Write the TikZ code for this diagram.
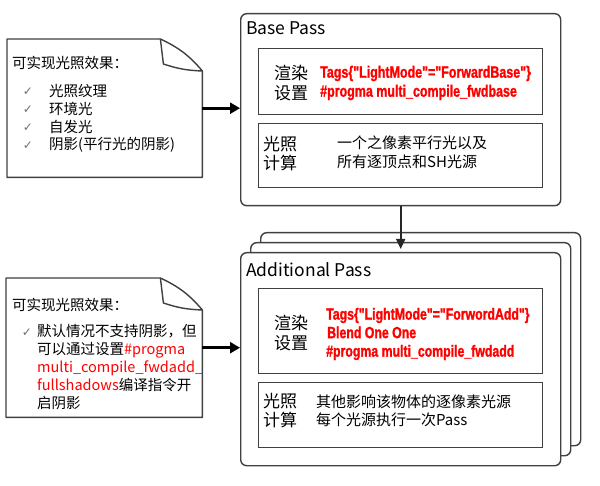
\documentclass[tikz,border=0pt]{standalone}
\usepackage{fontspec}
\setmainfont{Noto Sans CJK SC}
\newfontfamily\redfont{Liberation Sans}[FakeStretch=0.76,FakeBold=1.3]
\newfontfamily\symfont{DejaVu Sans}
\usetikzlibrary{arrows.meta,calc}
\definecolor{linegray}{HTML}{404040}
\definecolor{checkgray}{HTML}{707070}
\begin{document}
\begin{tikzpicture}[x=1pt,y=-1pt,
  passbox/.style={draw=linegray, line width=1.4pt, rounded corners=6pt, fill=white, anchor=north west, inner sep=0pt},
  inbox/.style={draw=linegray, line width=1.4pt, fill=white, anchor=north west, inner sep=0pt},
  notearea/.style={anchor=north west, inner sep=0pt},
  noteline/.style={draw=linegray, line width=1.4pt, line join=round},
  fatarrow/.style={line width=2.8pt, -{Triangle[length=10pt,width=11pt]}},
  thinarrow/.style={draw=black!85, line width=1.6pt, -{Triangle[length=10pt,width=9pt]}},
  ttl/.style={anchor=west, font=\fontsize{17.5}{20}\selectfont, inner sep=0pt},
  lbl/.style={align=center, font=\fontsize{17}{20}\selectfont, inner sep=0pt},
  lbl2/.style={align=center, font=\fontsize{17}{19}\selectfont, inner sep=0pt},
  body/.style={anchor=west, align=left, font=\fontsize{15}{19}\selectfont, inner sep=0pt},
  redtxt/.style={anchor=west, align=left, text=red, font=\redfont\bfseries\fontsize{16.4}{19}\selectfont, inner sep=0pt},
  notetxt/.style={anchor=west, align=left, font=\fontsize{14.5}{18}\selectfont, inner sep=0pt},
  chk/.style={text=checkgray, font=\symfont\fontsize{12}{12}\selectfont, inner sep=0pt}]
\useasboundingbox (0,0) rectangle (600,486);

% ---------- Base Pass ----------
\node[passbox, minimum width=320pt, minimum height=192pt] (base) at (240,13) {};
\node[ttl] (basettl) at (246,28) {Base Pass};
\node[inbox, minimum width=284pt, minimum height=66pt] (b1) at (258,48) {};
\node[inbox, minimum width=284pt, minimum height=64pt] (b2) at (258,123) {};
\node[lbl] (b1l) at (291,83) {渲染\\设置};
\node[redtxt] (b1r) at (320,83) {Tags\{"LightMode"="ForwardBase"\}\\\#progma multi\_compile\_fwdbase};
\node[lbl2] (b2l) at (280,154) {光照\\计算};
\node[body] (b2r) at (337,152) {一个之像素平行光以及\\所有逐顶点和SH光源};

% ---------- Additional Pass ----------
\node[passbox, minimum width=320pt, minimum height=213pt] (add3) at (260,232) {};
\node[passbox, minimum width=320pt, minimum height=213pt] (add2) at (250,242) {};
\node[passbox, minimum width=320pt, minimum height=213pt] (add) at (240,252) {};
\node[ttl] (addttl) at (246,270) {Additional Pass};
\node[inbox, minimum width=284pt, minimum height=85pt] (a1) at (258,288) {};
\node[inbox, minimum width=284pt, minimum height=65pt] (a2) at (258,382) {};
\node[lbl] (a1l) at (291,333) {渲染\\设置};
\node[redtxt, font=\redfont\bfseries\fontsize{16.2}{18.5}\selectfont] (a1r) at (326,334) {Tags\{"LightMode"="ForwordAdd"\}\\\hspace{1pt}Blend One One\\\#progma multi\_compile\_fwdadd};
\node[lbl2] (a2l) at (280,411) {光照\\计算};
\node[body, font=\fontsize{15}{18.5}\selectfont] (a2r) at (316,411) {其他影响该物体的逐像素光源\\每个光源执行一次Pass};

\draw[thinarrow] (base.south) -- ([yshift=3pt]add.north);

% ---------- Note 1 ----------
\node[notearea, minimum width=195pt, minimum height=138pt] (note1) at (7,39) {};
\draw[noteline, fill=white] (note1.north west) -- ([xshift=-42pt]note1.north east)
   to[bend left=12] ([yshift=-32pt]note1.north east) -- (note1.south east) -- (note1.south west) -- cycle;
\draw[noteline] ([xshift=-42pt]note1.north east) -- ([xshift=-39pt,yshift=-25pt]note1.north east)
   to[bend right=8] ([yshift=-32pt]note1.north east);
\node[notetxt] (n1t) at (12,63) {可实现光照效果：};
\node[chk] (c1) at (28,92) {✓};
\node[chk] (c2) at (28,110) {✓};
\node[chk] (c3) at (28,128) {✓};
\node[chk] (c4) at (28,146) {✓};
\node[notetxt] (i1) at (49,91) {光照纹理};
\node[notetxt] (i2) at (49,109) {环境光};
\node[notetxt] (i3) at (49,127) {自发光};
\node[notetxt] (i4) at (49,145) {阴影(平行光的阴影)};
\draw[fatarrow] (note1.east) -- (note1.east -| base.west);

% ---------- Note 2 ----------
\node[notearea, minimum width=196pt, minimum height=139pt] (note2) at (6,278) {};
\draw[noteline, fill=white] (note2.north west) -- ([xshift=-42pt]note2.north east)
   to[bend left=12] ([yshift=-32pt]note2.north east) -- (note2.south east) -- (note2.south west) -- cycle;
\draw[noteline] ([xshift=-42pt]note2.north east) -- ([xshift=-39pt,yshift=-25pt]note2.north east)
   to[bend right=8] ([yshift=-32pt]note2.north east);
\node[notetxt] (n2t) at (12,305) {可实现光照效果：};
\node[chk] (c5) at (27,333) {✓};
\node[notetxt] (n2b) at (37,367) {默认情况不支持阴影，但\\可以通过设置\textcolor{red}{\#progma}\\\textcolor{red}{multi\_compile\_fwdadd\_}\\\textcolor{red}{fullshadows}编译指令开\\启阴影};
\draw[fatarrow] (note2.east) -- (note2.east -| add.west);
\end{tikzpicture}
\end{document}
